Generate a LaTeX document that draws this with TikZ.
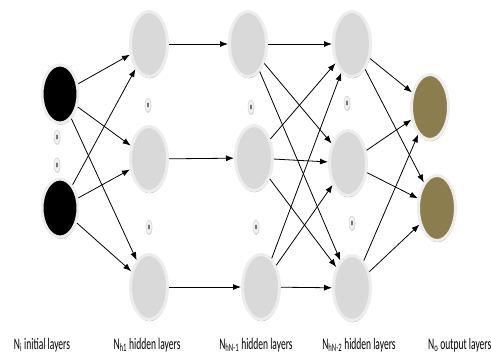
\documentclass[tikz,border=0pt]{standalone}
\usepackage{fontspec}
\setmainfont{Carlito}
\usetikzlibrary{shapes.geometric,arrows.meta,shadows}
\definecolor{hidfill}{HTML}{D9D9D9}
\definecolor{halo}{HTML}{EDEDED}
\definecolor{outfill}{HTML}{8B7D4E}
\begin{document}
\begin{tikzpicture}[x=1pt,y=-1pt,
  neuron/.style={ellipse, draw=halo, line width=3pt, minimum width=37pt, minimum height=65pt, inner sep=0pt,
    drop shadow={shadow xshift=0.6pt, shadow yshift=-1.8pt, opacity=0.28, fill=black}},
  hid/.style={neuron, fill=hidfill},
  inp/.style={neuron, fill=black, minimum width=36pt, minimum height=58pt},
  outp/.style={neuron, fill=outfill},
  dotnode/.style={ellipse, fill=gray!10, draw=gray!35, line width=0.5pt, minimum width=6pt, minimum height=14pt, inner sep=0pt,
    drop shadow={shadow xshift=0.3pt, shadow yshift=-0.8pt, opacity=0.2, fill=black},
    path picture={\fill[black!80] (path picture bounding box.center) ellipse (0.7pt and 2.6pt);}},
  conn/.style={-{Latex[length=8pt,width=6pt]}, line width=0.8pt, black},
  lab/.style={font=\fontsize{9.5}{11}\selectfont, inner sep=0pt}
]
\useasboundingbox (0,0) rectangle (491,354);
\clip (0,0) rectangle (491,354);
% input layer
\node[inp] (I1) at (60,94) {};
\node[inp] (I2) at (60,208) {};
% hidden layer 1
\node[hid] (A1) at (149,44) {};
\node[hid] (A2) at (149,159) {};
\node[hid] (A3) at (149,287) {};
% hidden layer 2
\node[hid] (B1) at (248,44) {};
\node[hid] (B2) at (254,158) {};
\node[hid] (B3) at (261,287) {};
% hidden layer 3
\node[hid] (C1) at (352,44) {};
\node[hid] (C2) at (348,163) {};
\node[hid] (C3) at (352,288) {};
% output
\node[outp] (O1) at (430,107) {};
\node[outp] (O2) at (437,208) {};
% dots
\node[dotnode] (d1) at (57,137) {};
\node[dotnode] (d2) at (57,165) {};
\node[dotnode] (d3) at (148,105) {};
\node[dotnode] (d4) at (149,227) {};
\node[dotnode] (d5) at (251,107) {};
\node[dotnode] (d6) at (256,227) {};
\node[dotnode] (d7) at (347,103) {};
\node[dotnode] (d8) at (352,223) {};
% connections
\foreach \s in {I1,I2}{\foreach \t in {A1,A2,A3}{\draw[conn] (\s) -- (\t);}}
\draw[conn] (A1) -- (B1);
\draw[conn] (A2) -- (B2);
\draw[conn] (A3) -- (B3);
\foreach \s in {B1,B2,B3}{\foreach \t in {C1,C2,C3}{\draw[conn] (\s) -- (\t);}}
\foreach \s in {C1,C2,C3}{\foreach \t in {O1,O2}{\draw[conn] (\s) -- (\t);}}
% labels
\node[lab] (L1) at (42,345) {\scalebox{1}[1.7]{N\textsubscript{i} initial layers}};
\node[lab] (L2) at (147,345) {\scalebox{1}[1.7]{N\textsubscript{h1} hidden layers}};
\node[lab] (L3) at (256,345) {\scalebox{1}[1.7]{N\textsubscript{hN-1} hidden layers}};
\node[lab] (L4) at (359,345) {\scalebox{1}[1.7]{N\textsubscript{hN-2} hidden layers}};
\node[lab, anchor=west] (L5) at (428,345) {\scalebox{1}[1.7]{N\textsubscript{o} output layers}};
\end{tikzpicture}
\end{document}
